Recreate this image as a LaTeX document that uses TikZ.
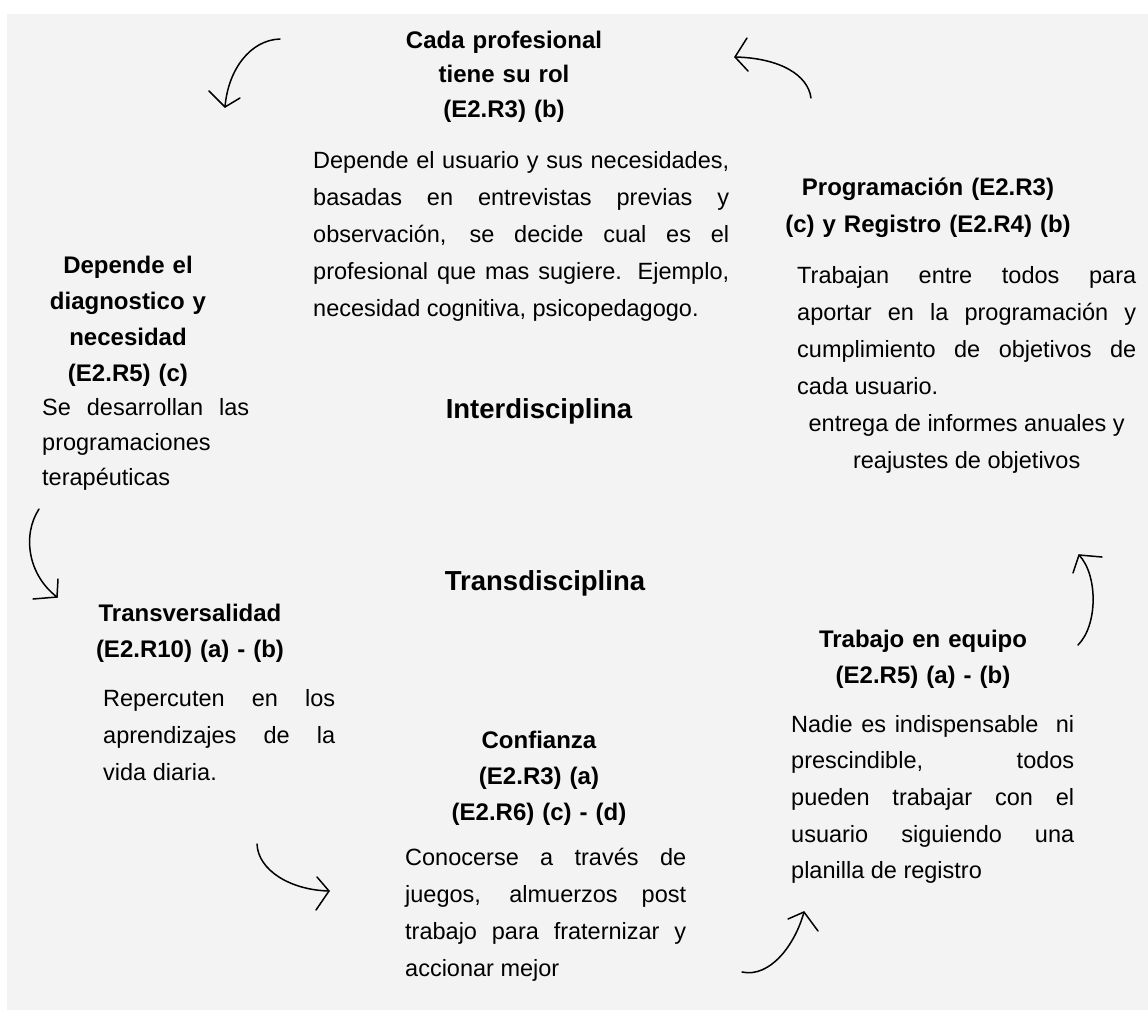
\documentclass[tikz,border=0pt]{standalone}
\usepackage{fontspec}
\setmainfont{Liberation Sans}
\definecolor{bgcol}{RGB}{243,243,243}
\newcommand\rs{\spaceskip=0pt\xspaceskip=0pt\relax}
\newcommand\jl[1]{\makebox[\hsize][s]{\rs #1}\\}
\begin{document}
\begin{tikzpicture}[x=1pt,y=-1pt,
  head/.style={font=\fontsize{24}{36}\selectfont\bfseries, align=center, inner sep=0pt, anchor=base, text width=#1},
  body/.style={font=\fontsize{23.5}{37}\selectfont, align=left, inner sep=0pt, anchor=base west, text width=#1},
  big/.style={font=\fontsize{27.5}{33}\selectfont\bfseries, inner sep=0pt, anchor=base},
  sketch/.style={line width=1.5pt, line cap=round, line join=round, black}]
\useasboundingbox (0,0) rectangle (1148,1010);
\fill[white] (0,0) rectangle (1148,1010);
\fill[bgcol] (7,14) rectangle (1148,1010);

% top centre
\node[head=300pt, font=\fontsize{24}{34.5}\selectfont\bfseries] (hTop) at (504,48) {Cada profesional\\tiene su rol\\(E2.R3) (b)};
\node[body=416pt] (bTop) at (313,168) {\rs\jl{Depende el usuario y sus necesidades,}\jl{basadas en entrevistas previas y}\jl{observación, se decide cual es el}\jl{profesional que mas sugiere. Ejemplo,}necesidad cognitiva, psicopedagogo.};

% top right
\node[head=340pt, font=\fontsize{24}{37}\selectfont\bfseries] (hProg) at (928,195) {Programación (E2.R3)\\(c) y Registro (E2.R4) (b)};
\node[body=339pt] (bProg) at (797,283) {\rs\jl{Trabajan entre todos para}\jl{aportar en la programación y}\jl{cumplimiento de objetivos de}cada usuario.\par\centering entrega de informes anuales y\\reajustes de objetivos\par};

% left
\node[head=230pt, font=\fontsize{24}{36}\selectfont\bfseries] (hDep) at (128,273) {Depende el\\diagnostico y\\necesidad\\(E2.R5) (c)};
\node[body=207pt, font=\fontsize{23.5}{35}\selectfont] (bDep) at (42,415) {\rs\jl{Se desarrollan las}programaciones\\terapéuticas};

% centre labels
\node[big] (inter) at (539,418) {Interdisciplina};
\node[big] (trans) at (545,590) {Transdisciplina};

% bottom left
\node[head=260pt] (hTra) at (190,621) {Transversalidad\\(E2.R10) (a) - (b)};
\node[body=232pt] (bTra) at (103,706) {\rs\jl{Repercuten en los}\jl{aprendizajes de la}vida diaria.};

% bottom centre
\node[head=260pt] (hCon) at (539,748) {Confianza\\(E2.R3) (a)\\(E2.R6) (c) - (d)};
\node[body=281pt] (bCon) at (405,865) {\rs\jl{Conocerse a través de}\jl{juegos, almuerzos post}\jl{trabajo para fraternizar y}accionar mejor};

% bottom right
\node[head=280pt] (hEq) at (923,647) {Trabajo en equipo\\(E2.R5) (a) - (b)};
\node[body=283pt, font=\fontsize{23.5}{36.7}\selectfont] (bEq) at (791,732) {\rs\jl{Nadie es indispensable\ \ ni}\jl{prescindible, todos}\jl{pueden trabajar con el}\jl{usuario siguiendo una}planilla de registro};

% hand-drawn arrows
\coordinate (a1s) at (280,39);  \coordinate (a1t) at (225,107);
\coordinate (a2s) at (811,98);  \coordinate (a2t) at (735,57);
\coordinate (a3s) at (39,509);  \coordinate (a3t) at (57,597);
\coordinate (a4s) at (1078,645);\coordinate (a4t) at (1079,555);
\coordinate (a5s) at (257,844); \coordinate (a5t) at (329,891);
\coordinate (a6s) at (742,972); \coordinate (a6t) at (804,912);

\draw[sketch] (a1s) .. controls (250,40) and (228,70) .. (a1t);
\draw[sketch] (209,91) -- (a1t) -- (240,98);
\draw[sketch] (a2s) .. controls (808,75) and (780,58) .. (a2t);
\draw[sketch] (747,38) -- (a2t) -- (748,71);
\draw[sketch] (a3s) .. controls (22,535) and (28,575) .. (a3t);
\draw[sketch] (58,579) -- (a3t) -- (33,599);
\draw[sketch] (a4s) .. controls (1098,625) and (1098,575) .. (a4t);
\draw[sketch] (1073,573) -- (a4t) -- (1102,557);
\draw[sketch] (a5s) .. controls (258,870) and (290,890) .. (a5t);
\draw[sketch] (317,877) -- (a5t) -- (316,910);
\draw[sketch] (a6s) .. controls (770,978) and (795,945) .. (a6t);
\draw[sketch] (788,919) -- (a6t) -- (818,931);
\end{tikzpicture}
\end{document}
